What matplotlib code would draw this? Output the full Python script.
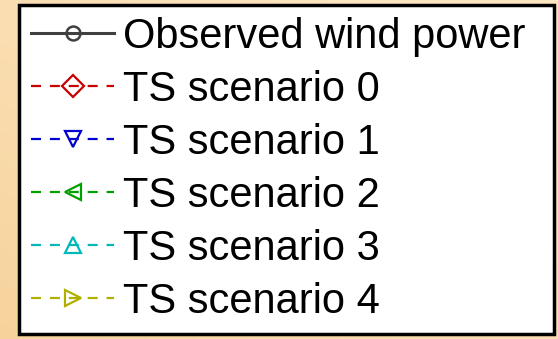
import numpy as np
import matplotlib.pyplot as plt
from matplotlib.colors import LinearSegmentedColormap

plt.rcParams['font.family'] = ['Liberation Sans', 'DejaVu Sans']

labels = ['Observed wind power', 'TS scenario 0', 'TS scenario 1',
          'TS scenario 2', 'TS scenario 3', 'TS scenario 4']
colors = ['#404040', '#c80000', '#0000d0', '#00a000', '#00b8b8', '#b0b000']
markers = ['o', 'D', 'v', '<', '^', '>']
styles = ['-', '--', '--', '--', '--', '--']


def main():
    fig = plt.figure(figsize=(5.58, 3.39), dpi=100)

    # warm gradient behind the legend box
    bg = fig.add_axes([0, 0, 1, 1])
    cmap = LinearSegmentedColormap.from_list('warm', ['#f7d39c', '#fde6c2'])
    yy, xx = np.mgrid[0:1:200j, 0:1:300j]
    grad = np.clip(0.6 * xx + 0.6 * yy, 0, 1)
    bg.imshow(grad, cmap=cmap, aspect='auto', extent=[0, 1, 0, 1], origin='lower')
    bg.set_axis_off()

    ax = fig.add_axes([0, 0, 1, 1])
    ax.set_axis_off()
    handles = []
    for lab, c, m, s in zip(labels, colors, markers, styles):
        ms = 10 if m == 'o' else 11
        if s == '-':
            h, = ax.plot([], [], linestyle=s, color=c, linewidth=2.2, marker=m,
                         markersize=ms, markerfacecolor='none', markeredgewidth=1.8, label=lab)
        else:
            h, = ax.plot([], [], linestyle=s, color=c, linewidth=1.6, marker=m,
                         markersize=ms, markerfacecolor='none', markeredgewidth=1.6,
                         dashes=(4.5, 4), label=lab)
        handles.append(h)

    leg = ax.legend(handles=handles, loc='upper left',
                    bbox_to_anchor=(19 / 558, 2 / 339, 535 / 558, 332 / 339),
                    mode='expand', fontsize=30, frameon=True, fancybox=False,
                    borderpad=0.29, labelspacing=0.31, handlelength=2.0,
                    handletextpad=0.2, borderaxespad=0)
    frame = leg.get_frame()
    frame.set_edgecolor('black')
    frame.set_linewidth(2.5)
    frame.set_facecolor('white')
    frame.set_alpha(1)

    fig.savefig('out.png', dpi=100)


if __name__ == '__main__':
    main()
